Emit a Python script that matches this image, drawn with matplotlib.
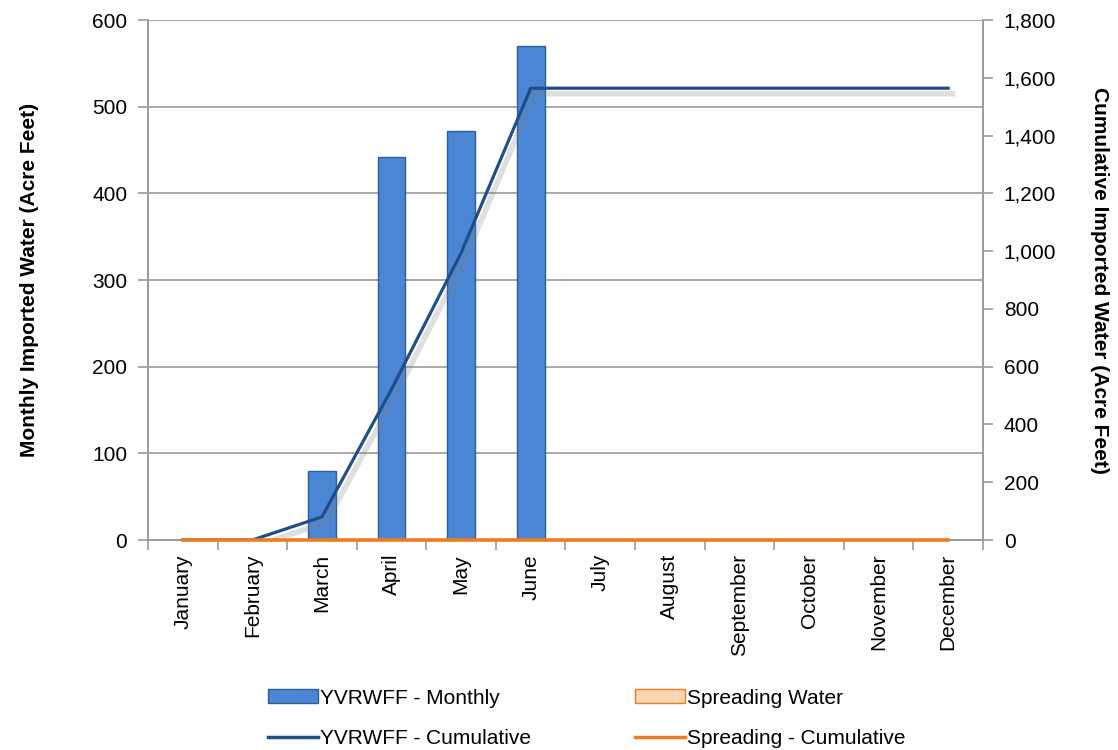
import numpy as np
import matplotlib
matplotlib.use("Agg")
import matplotlib.pyplot as plt
import matplotlib.patheffects as pe
from matplotlib.ticker import FuncFormatter, FixedLocator
from matplotlib.patches import Patch
from matplotlib.lines import Line2D

plt.rcParams['font.family'] = ['Liberation Sans', 'DejaVu Sans']

# données
months = ['January', 'February', 'March', 'April', 'May', 'June', 'July',
          'August', 'September', 'October', 'November', 'December']
yvrwff_monthly = [0, 0, 80, 442, 472, 570, 0, 0, 0, 0, 0, 0]
spreading_water = [0, 0, 0, 0, 0, 0, 0, 0, 0, 0, 0, 0]
yvrwff_cumul = [0, 0, 80, 522, 994, 1564, 1564, 1564, 1564, 1564, 1564, 1564]
spreading_cumul = [0, 0, 0, 0, 0, 0, 0, 0, 0, 0, 0, 0]

bleu = '#4A86D4'
bleu_bord = '#2D5E9E'
bleu_ligne = '#1F4E8A'
orange = '#F07A1E'
gris = '#9A9A9A'
fs = 15

fig = plt.figure(figsize=(11.18, 7.5), dpi=100)
ax = fig.add_axes([0.1324, 0.28, 0.7468, 0.6933])
ax2 = ax.twinx()

x = np.arange(len(months))
ax.bar(x, yvrwff_monthly, width=0.4, color=bleu, edgecolor=bleu_bord, linewidth=1, zorder=2)
ax.bar(x, spreading_water, width=0.4, color='#FCD5B5', edgecolor=orange, linewidth=1, zorder=2)

ombre = [pe.SimpleLineShadow(offset=(3, -4), shadow_color='gray', alpha=0.25, linewidth=4), pe.Normal()]
ax2.plot(x, yvrwff_cumul, color=bleu_ligne, linewidth=2.3, path_effects=ombre, zorder=3)
ax2.plot(x, spreading_cumul, color=orange, linewidth=2.6, zorder=4, clip_on=False)

ax.set_xlim(-0.5, 11.5)
ax.set_ylim(0, 600)
ax2.set_ylim(0, 1800)
ax.set_yticks(np.arange(0, 601, 100))
ax2.set_yticks(np.arange(0, 1801, 200))
ax2.yaxis.set_major_formatter(FuncFormatter(lambda v, p: f'{int(v):,}'))

ax.grid(axis='y', color=gris, linewidth=1.2, zorder=0)
ax.set_axisbelow(True)

ax.set_xticks(x)
ax.set_xticklabels(months, rotation=90, fontsize=fs)
ax.tick_params(axis='x', which='major', length=0, pad=10)
ax.xaxis.set_minor_locator(FixedLocator(np.arange(-0.5, 12, 1)))
ax.tick_params(axis='x', which='minor', length=7, color=gris, width=1.2)
ax.tick_params(axis='y', labelsize=fs, length=7, color=gris, width=1.2, pad=8)
ax2.tick_params(axis='y', labelsize=fs, length=7, color=gris, width=1.2, pad=8)

for a in (ax, ax2):
    a.spines['top'].set_visible(False)
    for s in ('left', 'right', 'bottom'):
        a.spines[s].set_color(gris)
        a.spines[s].set_linewidth(1.2)

ax.set_ylabel('Monthly Imported Water (Acre Feet)', fontsize=fs, fontweight='bold', labelpad=38)
ax2.set_ylabel('Cumulative Imported Water (Acre Feet)', fontsize=fs, fontweight='bold',
               rotation=270, labelpad=38)

handles = [Patch(facecolor=bleu, edgecolor=bleu_bord),
           Line2D([0], [0], color=bleu_ligne, linewidth=2.5),
           Patch(facecolor='#FCD5B5', edgecolor=orange),
           Line2D([0], [0], color=orange, linewidth=2.5)]
labels = ['YVRWFF - Monthly', 'YVRWFF - Cumulative', 'Spreading Water', 'Spreading - Cumulative']
fig.legend(handles, labels, ncol=2, loc='center', bbox_to_anchor=(0.525, 0.042),
           frameon=False, fontsize=fs, handlelength=2.4, handleheight=0.65, handletextpad=0.1,
           columnspacing=5.0, labelspacing=1.05)

fig.savefig('out.png', dpi=100)
